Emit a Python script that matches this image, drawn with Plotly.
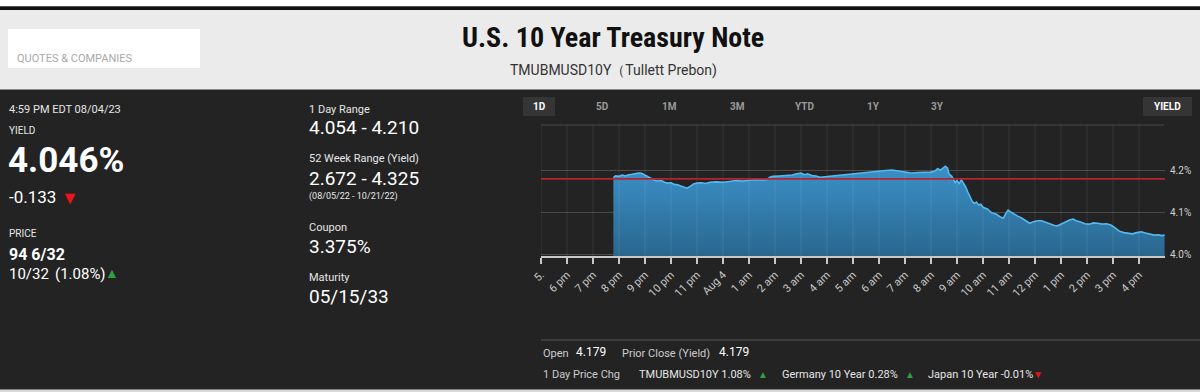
import plotly.graph_objects as go
import pandas as pd

W, H = 1200, 392


def fx(x):
    return x / W


def fy(y):
    return 1 - y / H


# ---------------- data ----------------
times = [
    "2023-08-03 19:47", "2023-08-03 19:52", "2023-08-03 20:00", "2023-08-03 20:08",
    "2023-08-03 20:15", "2023-08-03 20:22", "2023-08-03 20:30", "2023-08-03 20:38",
    "2023-08-03 20:45", "2023-08-03 20:52", "2023-08-03 21:00", "2023-08-03 21:08",
    "2023-08-03 21:15", "2023-08-03 21:22", "2023-08-03 21:30", "2023-08-03 21:38",
    "2023-08-03 21:45", "2023-08-03 21:52", "2023-08-03 22:00", "2023-08-03 22:08",
    "2023-08-03 22:15", "2023-08-03 22:22", "2023-08-03 22:30", "2023-08-03 22:37",
    "2023-08-03 22:45", "2023-08-03 22:52", "2023-08-03 23:00", "2023-08-03 23:10",
    "2023-08-03 23:20", "2023-08-03 23:30", "2023-08-03 23:45",
    "2023-08-04 00:00", "2023-08-04 00:15", "2023-08-04 00:30", "2023-08-04 00:45",
    "2023-08-04 01:00", "2023-08-04 01:15", "2023-08-04 01:30", "2023-08-04 01:41",
    "2023-08-04 01:48", "2023-08-04 01:55", "2023-08-04 02:10", "2023-08-04 02:25",
    "2023-08-04 02:40", "2023-08-04 02:50", "2023-08-04 03:00", "2023-08-04 03:08",
    "2023-08-04 03:15", "2023-08-04 03:25", "2023-08-04 03:35", "2023-08-04 03:44",
    "2023-08-04 05:46", "2023-08-04 06:00", "2023-08-04 06:15", "2023-08-04 06:30",
    "2023-08-04 06:45", "2023-08-04 07:00", "2023-08-04 07:15", "2023-08-04 07:30",
    "2023-08-04 07:45", "2023-08-04 08:00", "2023-08-04 08:10", "2023-08-04 08:15",
    "2023-08-04 08:22", "2023-08-04 08:28", "2023-08-04 08:33", "2023-08-04 08:38",
    "2023-08-04 08:42", "2023-08-04 08:48", "2023-08-04 08:52", "2023-08-04 08:56",
    "2023-08-04 09:00", "2023-08-04 09:05", "2023-08-04 09:10", "2023-08-04 09:15",
    "2023-08-04 09:20", "2023-08-04 09:25", "2023-08-04 09:30", "2023-08-04 09:35",
    "2023-08-04 09:40", "2023-08-04 09:45", "2023-08-04 09:50", "2023-08-04 09:55",
    "2023-08-04 10:00", "2023-08-04 10:10", "2023-08-04 10:20", "2023-08-04 10:30",
    "2023-08-04 10:40", "2023-08-04 10:47", "2023-08-04 10:53", "2023-08-04 10:58",
    "2023-08-04 11:05", "2023-08-04 11:12", "2023-08-04 11:20", "2023-08-04 11:28",
    "2023-08-04 11:35", "2023-08-04 11:42", "2023-08-04 11:48", "2023-08-04 11:55",
    "2023-08-04 12:05", "2023-08-04 12:15", "2023-08-04 12:25", "2023-08-04 12:35",
    "2023-08-04 12:45", "2023-08-04 12:52", "2023-08-04 13:00", "2023-08-04 13:10",
    "2023-08-04 13:20", "2023-08-04 13:28", "2023-08-04 13:35", "2023-08-04 13:45",
    "2023-08-04 13:55", "2023-08-04 14:05", "2023-08-04 14:15", "2023-08-04 14:25",
    "2023-08-04 14:35", "2023-08-04 14:45", "2023-08-04 14:55", "2023-08-04 15:05",
    "2023-08-04 15:15", "2023-08-04 15:25", "2023-08-04 15:35", "2023-08-04 15:45",
    "2023-08-04 15:55", "2023-08-04 16:05", "2023-08-04 16:15", "2023-08-04 16:25",
    "2023-08-04 16:35", "2023-08-04 16:45", "2023-08-04 16:52", "2023-08-04 16:59",
]
yields = [
    4.182, 4.186, 4.185, 4.188,
    4.186, 4.189, 4.190, 4.191,
    4.193, 4.192, 4.188, 4.184,
    4.180, 4.176, 4.174, 4.175,
    4.171, 4.169, 4.170, 4.166,
    4.165, 4.163, 4.160, 4.157,
    4.162, 4.167, 4.169, 4.170,
    4.168, 4.171, 4.172,
    4.171, 4.173, 4.175, 4.174,
    4.176, 4.177, 4.176, 4.177,
    4.183, 4.185, 4.186, 4.187,
    4.188, 4.191, 4.193, 4.189,
    4.191, 4.187, 4.186, 4.183,
    4.197, 4.198, 4.199, 4.200,
    4.198, 4.196, 4.193, 4.194,
    4.194, 4.195, 4.198, 4.203,
    4.200, 4.206, 4.209, 4.205,
    4.190, 4.185, 4.179, 4.170,
    4.175, 4.168, 4.177, 4.170,
    4.160, 4.148, 4.135, 4.126,
    4.121, 4.124, 4.117, 4.119,
    4.112, 4.108, 4.099, 4.096,
    4.089, 4.086, 4.098, 4.105,
    4.100, 4.095, 4.091, 4.087,
    4.083, 4.078, 4.074, 4.077,
    4.080, 4.080, 4.076, 4.073,
    4.069, 4.068, 4.072, 4.076,
    4.082, 4.084, 4.080, 4.077,
    4.073, 4.072, 4.075, 4.074,
    4.072, 4.073, 4.070, 4.063,
    4.055, 4.052, 4.050, 4.049,
    4.052, 4.054, 4.051, 4.049,
    4.046, 4.047, 4.045, 4.046,
]
prior_close = 4.179

tick_times = list(pd.date_range("2023-08-03 17:00", "2023-08-04 16:00", freq="h"))
tick_text = ["5.", "6 pm", "7 pm", "8 pm", "9 pm", "10 pm", "11 pm", "Aug 4",
             "1 am", "2 am", "3 am", "4 am", "5 am", "6 am", "7 am", "8 am",
             "9 am", "10 am", "11 am", "12 pm", "1 pm", "2 pm", "3 pm", "4 pm"]
y_ticks = [4.0, 4.1, 4.2]
y_tick_text = ["4.0%", "4.1%", "4.2%"]
x_range = ["2023-08-03 17:00", "2023-08-04 17:00"]
y_range = [3.9967, 4.3064]

range_buttons = ["1D", "5D", "1M", "3M", "YTD", "1Y", "3Y"]

FONT = "Roboto, 'Open Sans', sans-serif"
NARROW = "'Liberation Sans Narrow', 'Roboto Condensed', Roboto, sans-serif"
DARK = "#232323"

fig = go.Figure()

fig.add_trace(go.Scatter(
    x=times, y=yields, mode="lines",
    line=dict(color="#55b8ee", width=1.6),
    fill="tozeroy",
    fillgradient=dict(type="vertical", start=4.0, stop=4.21,
                      colorscale=[[0, "#2a678f"], [1, "#3b90c8"]]),
    hoverinfo="skip", showlegend=False,
))

shapes = []


def rect(x0, y0, x1, y1, color):
    shapes.append(dict(type="rect", xref="paper", yref="paper",
                       x0=fx(x0), x1=fx(x1), y0=fy(y1), y1=fy(y0),
                       fillcolor=color, line=dict(width=0), layer="below"))


def hline(x0, x1, y, color, width=1):
    shapes.append(dict(type="line", xref="paper", yref="paper",
                       x0=fx(x0), x1=fx(x1), y0=fy(y), y1=fy(y),
                       line=dict(color=color, width=width), layer="below"))


# page backgrounds
rect(-10, -10, 1210, 6.5, "#ffffff")
rect(-10, 6.5, 1210, 10, "#111111")
rect(-10, 10, 1210, 89.5, "#ebebeb")
rect(8, 29, 200, 68, "#ffffff")
rect(-10, 389.5, 1210, 400, "#d9d9d9")
# range buttons boxes
rect(523, 97, 555, 116, "#353535")
rect(1143, 97, 1192, 116, "#353535")
# top frame of chart and separator line
hline(541, 1164, 125, "#4a4a4a", 1)
hline(541, 1210, 340, "#555555", 1)

# vertical hour gridlines (drawn above the fill, faint)
for t in tick_times:
    shapes.append(dict(type="line", xref="x", yref="paper", x0=t, x1=t,
                       y0=fy(256), y1=fy(125),
                       line=dict(color="rgba(255,255,255,0.09)", width=1),
                       layer="above"))

# prior close line
shapes.append(dict(type="line", xref="paper", yref="y",
                   x0=fx(541), x1=fx(1165), y0=prior_close, y1=prior_close,
                   line=dict(color="#b5242f", width=1.6), layer="above"))

annotations = []


def txt(x, y, s, size, color, family=FONT, xanchor="left"):
    annotations.append(dict(x=fx(x), y=fy(y), xref="paper", yref="paper",
                            text=s, showarrow=False, xanchor=xanchor,
                            yanchor="middle", borderpad=0,
                            font=dict(size=size, color=color, family=family)))


# header
txt(16, 59, "QUOTES &amp; COMPANIES", 11, "#a9a9a9")
txt(613, 38, "<b>U.S. 10 Year Treasury Note</b>", 28, "#111111", NARROW, "center")
txt(613, 70, "TMUBMUSD10Y（Tullett Prebon)", 14, "#333333", FONT, "center")

# left column
txt(8, 110, "4:59 PM EDT 08/04/23", 11, "#e6e6e6")
txt(8, 131, "YIELD", 10, "#e6e6e6")
txt(7, 160, "<b>4.046%</b>", 35, "#ffffff")
txt(8, 197, "-0.133", 17, "#ffffff")
txt(60, 197, "▼", 18, "#e8141c")
txt(8, 233, "PRICE", 10, "#e6e6e6")
txt(8, 254, "<b>94 6/32</b>", 16, "#ffffff")
txt(8, 274, "10/32", 15, "#ffffff")
txt(54, 274, "(1.08%)", 15, "#ffffff")
txt(104, 273, "▲", 14, "#2ea043")

# middle column
txt(308, 109, "1 Day Range", 11, "#e6e6e6")
txt(308, 128, "4.054 - 4.210", 19, "#ffffff")
txt(308, 159, "52 Week Range (Yield)", 11, "#e6e6e6")
txt(308, 178, "2.672 - 4.325", 19, "#ffffff")
txt(308, 196, "(08/05/22 - 10/21/22)", 9, "#e6e6e6")
txt(308, 227, "Coupon", 11, "#e6e6e6")
txt(308, 247, "3.375%", 19, "#ffffff")
txt(308, 277, "Maturity", 11, "#e6e6e6")
txt(308, 296, "05/15/33", 19, "#ffffff")

# range buttons
btn_x = [539, 603, 669, 737, 805, 873, 937]
for bx, label in zip(btn_x, range_buttons):
    col = "#ffffff" if label == "1D" else "#9a9a9a"
    txt(bx, 106, "<b>" + label + "</b>", 10, col, FONT, "center")
txt(1167, 106, "<b>YIELD</b>", 10, "#ffffff", FONT, "center")

# bottom info rows
txt(542, 353, "Open", 11, "#cccccc")
txt(575, 352, "4.179", 12, "#ffffff")
txt(621, 353, "Prior Close (Yield)", 11, "#cccccc")
txt(718, 352, "4.179", 12, "#ffffff")
txt(542, 374, "1 Day Price Chg", 11, "#cccccc")
txt(638, 374, "TMUBMUSD10Y 1.08%", 11, "#e6e6e6")
txt(757, 374, "▲", 10, "#2ea043")
txt(781, 374, "Germany 10 Year 0.28%", 11, "#e6e6e6")
txt(904, 374, "▲", 10, "#2ea043")
txt(927, 374, "Japan 10 Year -0.01%", 11, "#e6e6e6")
txt(1032, 374, "▼", 10, "#e8141c")

fig.update_layout(
    width=W, height=H, autosize=False,
    margin=dict(l=0, r=0, t=0, b=0, pad=0, autoexpand=False),
    paper_bgcolor=DARK, plot_bgcolor=DARK,
    shapes=shapes, annotations=annotations,
    showlegend=False,
    xaxis=dict(
        domain=[fx(541), fx(1165)], type="date", range=x_range,
        tickvals=tick_times, ticktext=tick_text, tickangle=-45,
        showgrid=False, zeroline=False, automargin=False,
        showline=True, linecolor="#c8c8c8", linewidth=2,
        ticks="outside", ticklen=6, tickwidth=2, tickcolor="#c8c8c8",
        tickfont=dict(size=11, color="#c8c8c8", family=FONT),
        fixedrange=True,
    ),
    yaxis=dict(
        domain=[fy(256), fy(125)], range=y_range, side="right",
        tickvals=y_ticks, ticktext=y_tick_text,
        showgrid=True, gridcolor="#4a4a4a", gridwidth=1, zeroline=False,
        automargin=False,
        showline=False, ticks="", ticklabelstandoff=4,
        tickfont=dict(size=10, color="#cfcfcf", family=FONT),
        fixedrange=True,
    ),
)

fig.write_html(
    "out.html",
    config={"displayModeBar": False},
    post_script=(
        "document.documentElement.style.margin='0';"
        "document.body.style.margin='0';document.body.style.padding='0';"
        "document.body.style.overflow='hidden';"
    ),
)
